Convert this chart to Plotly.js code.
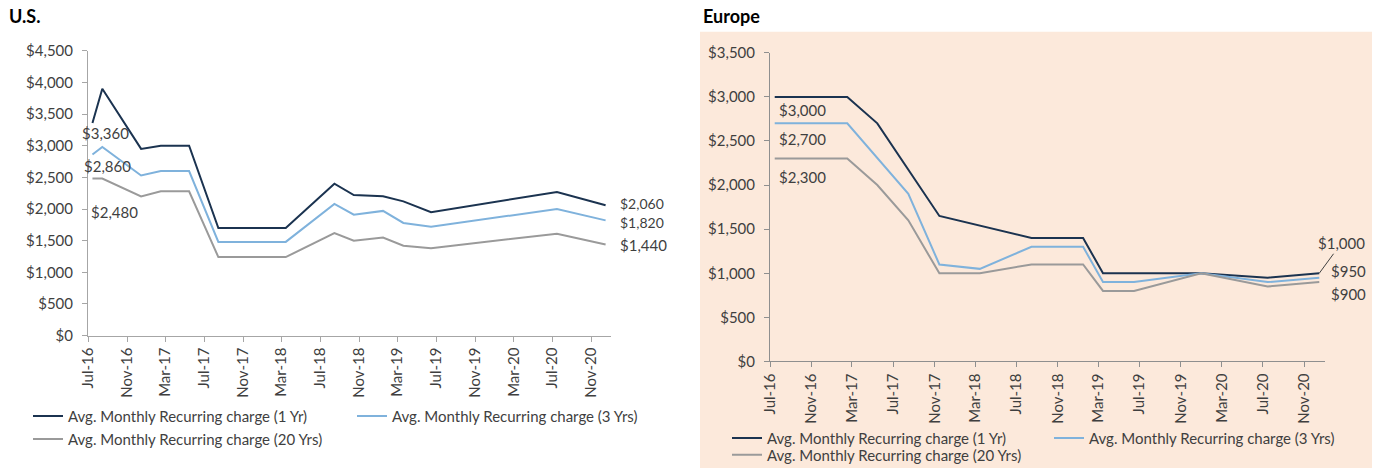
<!DOCTYPE html>
<html><head><meta charset="utf-8">
<script src="https://cdn.plot.ly/plotly-3.0.1.min.js"></script>
<style>html,body{margin:0;padding:0;background:#fff}#chart{width:1374px;height:472px}</style>
</head><body><div id="chart"></div>
<script>
// ---------- DATA ----------
const seriesNames = ["Avg. Monthly Recurring charge (1 Yr)", "Avg. Monthly Recurring charge (3 Yrs)", "Avg. Monthly Recurring charge (20 Yrs)"];
const panelTitles = ["U.S.", "Europe"];

const usDates = ["2016-07-15","2016-08-15","2016-12-15","2017-02-15","2017-05-15","2017-08-15","2018-03-15","2018-08-15","2018-10-15","2019-01-15","2019-03-20","2019-06-15","2020-07-15","2020-12-15"];
const us1Yr   = [3360, 3900, 2950, 3000, 3000, 1700, 1700, 2400, 2220, 2200, 2120, 1950, 2270, 2060];
const us3Yrs  = [2860, 2980, 2530, 2600, 2600, 1480, 1480, 2080, 1910, 1970, 1780, 1720, 2000, 1820];
const us20Yrs = [2480, 2480, 2200, 2280, 2280, 1240, 1240, 1620, 1500, 1550, 1420, 1380, 1610, 1440];

const euDates1Yr = ["2016-07-15","2017-02-15","2017-05-15","2017-11-15","2018-08-15","2019-01-15","2019-03-15","2019-12-31","2020-07-15","2020-12-15"];
const eu1Yr      = [3000, 3000, 2700, 1650, 1400, 1400, 1000, 1000, 950, 1000];
const euDates3Yrs = ["2016-07-15","2017-02-15","2017-08-15","2017-11-15","2018-03-15","2018-08-15","2019-01-15","2019-03-15","2019-06-15","2019-12-31","2020-07-15","2020-12-15"];
const eu3Yrs      = [2700, 2700, 1900, 1100, 1050, 1300, 1300, 900, 900, 1000, 900, 950];
const euDates20Yrs = ["2016-07-15","2017-02-15","2017-05-15","2017-08-15","2017-11-15","2018-03-15","2018-08-15","2019-01-15","2019-03-15","2019-06-15","2019-12-31","2020-07-15","2020-12-15"];
const eu20Yrs      = [2300, 2300, 2000, 1600, 1000, 1000, 1100, 1100, 800, 800, 1000, 850, 900];

const xRange = ["2016-07-01", "2021-01-01"];
const usYMax = 4500, euYMax = 3500, yStep = 500;

// ---------- STYLE ----------
const W = 1374, H = 472;
const px = x => x / W, py = y => 1 - y / H;
const FONT = "Lato, 'Open Sans', sans-serif";
const TXT = "#3f3f3f";
const colors = ["#1b3350", "#7fb2dc", "#9a9a9a"];
const peach = "#fce9db";

const fmt = v => "$" + v.toLocaleString("en-US");

function line(x, y, name, i, xa, ya, legend) {
  return {x, y, name, type: "scatter", mode: "lines", xaxis: xa, yaxis: ya, legend,
    line: {color: colors[i], width: 2}, hoverinfo: "skip"};
}

const data = [
  line(usDates, us1Yr, seriesNames[0], 0, "x", "y", "legend"),
  line(usDates, us3Yrs, seriesNames[1], 1, "x", "y", "legend2"),
  line(usDates, us20Yrs, seriesNames[2], 2, "x", "y", "legend3"),
  line(euDates1Yr, eu1Yr, seriesNames[0], 0, "x2", "y2", "legend4"),
  line(euDates3Yrs, eu3Yrs, seriesNames[1], 1, "x2", "y2", "legend5"),
  line(euDates20Yrs, eu20Yrs, seriesNames[2], 2, "x2", "y2", "legend6")
];

function xax(d0, d1, y, lc) {
  return {domain: [px(d0), px(d1)], anchor: y, type: "date", range: xRange,
    tick0: "2016-07-01", dtick: "M4", tickformat: "%b-%y", tickangle: -90,
    ticks: "outside", ticklen: 5, tickcolor: lc, showline: true, linecolor: lc, linewidth: 1,
    showgrid: false, zeroline: false, tickfont: {family: FONT, size: 15, color: TXT}, fixedrange: true};
}
function yax(top, bottom, max, x, lc) {
  return {domain: [py(bottom), py(top)], anchor: x, range: [0, max], dtick: yStep, tick0: 0,
    tickprefix: "$", tickformat: ",.0f", ticks: "outside", ticklen: 5, tickcolor: lc,
    showline: true, linecolor: lc, linewidth: 1, showgrid: false, zeroline: false,
    ticklabelstandoff: 6,
    tickfont: {family: FONT, size: 15, color: TXT}, fixedrange: true};
}
function leg(x, y) {
  return {x: px(x), xanchor: "left", y: py(y), yanchor: "middle", orientation: "v",
    bgcolor: "rgba(0,0,0,0)", borderwidth: 0, font: {family: FONT, size: 15, color: TXT},
    itemclick: false, itemdoubleclick: false};
}

function lab(xref, yref, xs, ys, i, xshift, yshift, anchor, size) {
  return {xref, yref, x: xs[i], y: ys[i], text: fmt(ys[i]), showarrow: false,
    xanchor: anchor, yanchor: "middle", xshift, yshift,
    font: {family: FONT, size: size || 15, color: TXT}};
}
const L = a => a.length - 1;

const annotations = [
  {xref: "paper", yref: "paper", x: px(7), y: py(16), xanchor: "left", yanchor: "middle",
   text: "<b>" + panelTitles[0] + "</b>", showarrow: false, font: {family: FONT, size: 18, color: "#000"}},
  {xref: "paper", yref: "paper", x: px(701), y: py(16), xanchor: "left", yanchor: "middle",
   text: "<b>" + panelTitles[1] + "</b>", showarrow: false, font: {family: FONT, size: 18, color: "#000"}},
  lab("x", "y", usDates, us1Yr, 0, 13, -10, "center"),
  lab("x", "y", usDates, us3Yrs, 0, 15, -11, "center"),
  lab("x", "y", usDates, us20Yrs, 0, 22, -33, "center"),
  lab("x", "y", usDates, us1Yr, L(us1Yr), 12, 2, "left", 14),
  lab("x", "y", usDates, us3Yrs, L(us3Yrs), 12, -2, "left", 14),
  lab("x", "y", usDates, us20Yrs, L(us20Yrs), 12, -1, "left"),
  lab("x2", "y2", euDates1Yr, eu1Yr, 0, 28, -13, "center"),
  lab("x2", "y2", euDates3Yrs, eu3Yrs, 0, 28, -16, "center"),
  lab("x2", "y2", euDates20Yrs, eu20Yrs, 0, 28, -18, "center"),
  {xref: "x2", yref: "y2", x: euDates1Yr[L(eu1Yr)], y: eu1Yr[L(eu1Yr)], text: fmt(eu1Yr[L(eu1Yr)]),
   showarrow: true, arrowhead: 0, arrowwidth: 1, arrowcolor: "#404040", ax: 22, ay: -30,
   font: {family: FONT, size: 15, color: TXT}},
  lab("x2", "y2", euDates3Yrs, eu3Yrs, L(eu3Yrs), 10, 7, "left"),
  lab("x2", "y2", euDates20Yrs, eu20Yrs, L(eu20Yrs), 10, -12, "left")
];

const layout = {
  width: W, height: H, margin: {l: 0, r: 0, t: 0, b: 0},
  paper_bgcolor: "#ffffff", plot_bgcolor: "rgba(0,0,0,0)",
  font: {family: FONT, color: TXT},
  showlegend: true,
  xaxis: xax(88, 611, "y", "#a6a6a6"),
  yaxis: yax(51, 337, usYMax, "x", "#a6a6a6"),
  xaxis2: xax(770, 1325, "y2", "#8f8f8f"),
  yaxis2: yax(53, 363, euYMax, "x2", "#8f8f8f"),
  legend: leg(28, 418), legend2: leg(352, 418), legend3: leg(28, 441),
  legend4: leg(727, 440), legend5: leg(1049, 440), legend6: leg(727, 457),
  shapes: [{type: "rect", xref: "paper", yref: "paper", x0: px(700), x1: px(1372), y0: py(470), y1: py(32),
    fillcolor: peach, line: {width: 0}, layer: "below"}],
  annotations
};

Plotly.newPlot("chart", data, layout, {staticPlot: true, displayModeBar: false});
</script>
</body></html>
